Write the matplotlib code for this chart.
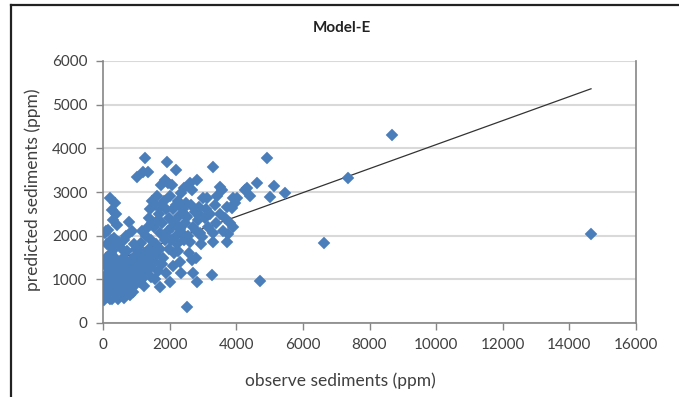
import numpy as np
import matplotlib
matplotlib.use("Agg")
from matplotlib import pyplot as plt
from matplotlib.lines import Line2D

plt.rcParams["font.family"] = ["Lato", "DejaVu Sans"]

obs_x = [
    30, 50, 60, 80, 100, 120, 150, 170, 200, 220, 250, 280, 300, 320, 350, 380, 400, 420, 450, 480,
    50, 100, 150, 200, 250, 300, 350, 400, 450, 500, 60, 100, 150, 210, 270, 300, 350, 380, 420, 250,
    130, 320, 480, 200, 400, 90, 180, 270, 460, 330,
    520, 550, 580, 600, 620, 650, 680, 700, 720, 750, 780, 800, 820, 850, 870, 900, 920, 950, 980, 1000,
    560, 640, 700, 880, 960, 600, 760, 840, 910, 990,
    1020, 1050, 1100, 1120, 1150, 1170, 1200, 1220, 1250, 1260, 1280, 1300, 1320, 1350, 1350, 1380,
    1400, 1420, 1450, 1470, 1480, 1050, 1100, 1150, 1230, 1300, 1380, 1450, 1020, 1180, 1500, 1480,
    1520, 1550, 1580, 1600, 1620, 1650, 1680, 1700, 1710, 1720, 1750, 1770, 1800, 1820, 1850, 1870,
    1900, 1920, 1950, 1980, 1560, 1640, 1760, 1830, 1890, 1990, 2000, 1700, 1600, 1950,
    2010, 2050, 2070, 2100, 2120, 2150, 2190, 2200, 2220, 2250, 2280, 2300, 2320, 2350, 2400, 2420,
    2450, 2480, 2100, 2180, 2260, 2380, 2500, 2060, 2330, 2440,
    2520, 2520, 2550, 2600, 2610, 2640, 2670, 2700, 2700, 2750, 2800, 2820, 2820, 2850, 2900, 2950,
    2970, 3000, 2580, 2680, 2780, 2880, 2950,
    3050, 3100, 3120, 3150, 3200, 3270, 3300, 3300, 3300, 3350, 3400, 3420, 3500, 3510, 3570, 3600,
    3650, 3720, 3720, 3750, 3800, 3870, 3900, 3900, 3950,
    4020, 4260, 4320, 4410, 4620, 4710, 4920, 5010, 5130, 5450,
    6630, 7350, 8680, 14650,
]
pred_y = [
    520, 650, 800, 950, 1100, 700, 600, 900, 1200, 750, 1000, 550, 850, 1300, 680, 1050, 900, 1400, 780, 1150,
    1350, 1500, 1250, 1450, 1600, 1700, 1500, 1750, 1300, 1000, 2060, 2100, 2130, 2860, 2590, 2360, 2750, 2500, 2250, 1900,
    1800, 1950, 1850, 560, 620, 1000, 1050, 1150, 550, 1150,
    700, 1200, 900, 1500, 580, 1050, 800, 1350, 1650, 950, 2310, 650, 1200, 1450, 1000, 700, 1800, 1150, 1550, 900,
    1700, 1900, 2000, 2100, 1300, 1150, 1100, 850, 1000, 1700,
    3340, 1750, 1200, 1400, 1830, 1000, 3460, 1600, 1100, 3780, 1300, 2000, 1500, 3460, 2200, 1700,
    1250, 2600, 1900, 2290, 1350, 1300, 950, 1550, 850, 1150, 2400, 1050, 1100, 2100, 1600, 2800,
    2200, 1400, 2700, 1800, 2900, 1200, 2500, 2050, 820, 1700, 3160, 2300, 1500, 2800, 3270, 1900,
    2600, 3690, 2100, 1700, 1000, 2350, 1350, 2000, 1150, 2400, 2900, 2650, 1550, 3200,
    940, 1900, 3160, 2600, 1600, 2300, 3500, 2000, 1800, 2800, 2450, 1400, 2150, 2980, 2600, 1900,
    2300, 2750, 1300, 2700, 1650, 2050, 2450, 2200, 1150, 3100,
    370, 2430, 2000, 1860, 3200, 2700, 3040, 1140, 2200, 2550, 1500, 3270, 940, 2350, 2050, 1800,
    1970, 2860, 1600, 1450, 2100, 2650, 2450,
    2400, 2600, 2860, 2200, 2500, 1100, 3570, 2060, 1860, 2700, 2300, 2900, 2500, 3110, 3040, 2100,
    2400, 2650, 1860, 2040, 2300, 2630, 2200, 2860, 2750,
    2860, 3050, 3090, 2900, 3210, 960, 3780, 2880, 3140, 2970,
    1830, 3320, 4300, 2040,
]

# linear trendline as drawn (intercept, slope)
trend_b, trend_m = 1335.0, 0.275

x_ticks = np.arange(0, 16001, 2000)
y_ticks = np.arange(0, 6001, 1000)

blue = "#4A7EBB"
axis_gray = "#868686"
grid_gray = "#D9D9D9"
text_col = "#404040"

fig = plt.figure(figsize=(6.79, 3.97), dpi=100)
ax = fig.add_axes([103 / 679, 1 - 323 / 397, (636 - 103) / 679, (323 - 61) / 397])

ax.yaxis.grid(True, color=grid_gray, lw=1.5)
ax.set_axisbelow(True)

tx = np.array([min(obs_x), max(obs_x)])
ax.plot(tx, trend_b + trend_m * tx, color="#333333", lw=0.9, zorder=2)
ax.plot(obs_x, pred_y, "D", color=blue, ms=5.8, mec=blue, mew=0.3, ls="none", zorder=3)

ax.set_xlim(0, 16000)
ax.set_ylim(0, 6000)
ax.set_xticks(x_ticks)
ax.set_yticks(y_ticks)
ax.tick_params(axis="both", direction="out", length=5, width=1, color=axis_gray,
               labelcolor=text_col, labelsize=11, pad=6)

for side in ("left", "bottom", "right"):
    ax.spines[side].set_color(axis_gray)
    ax.spines[side].set_linewidth(1.2)
ax.spines["top"].set_visible(False)

fig.text(340 / 679, 1 - 381 / 397, "observe sediments (ppm)", ha="center", va="center",
         fontsize=12.5, color=text_col)
fig.text(33 / 679, 1 - 190 / 397, "predicted sediments (ppm)", ha="center", va="center",
         rotation=90, fontsize=12.5, color=text_col)
fig.text(342 / 679, 1 - 28 / 397, "Model-E", ha="center", va="center",
         fontsize=11, fontweight="bold", color="#222222")

# frame lines at top and left of the picture
fig.add_artist(Line2D([11 / 679, 1], [1 - 5 / 397, 1 - 5 / 397], color="#222222", lw=1.6))
fig.add_artist(Line2D([11 / 679, 11 / 679], [0, 1 - 5 / 397], color="#222222", lw=1.6))

fig.savefig("out.png", dpi=100)
